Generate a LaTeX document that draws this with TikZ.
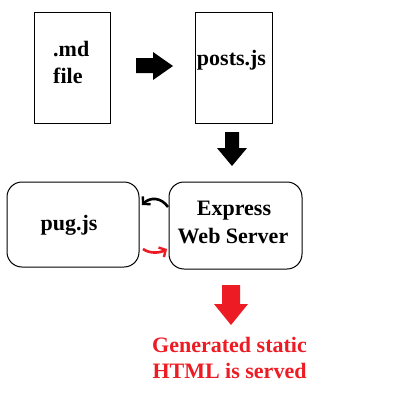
\documentclass[tikz,border=0pt]{standalone}
\usepackage{fontspec}
\setmainfont{Liberation Serif}
\usetikzlibrary{arrows.meta}
\definecolor{pred}{RGB}{237,28,36}
\begin{document}
\begin{tikzpicture}[x=1pt,y=-1pt,
  box/.style={draw=black,line width=1pt},
  rbox/.style={draw=black,line width=1pt,rounded corners=15pt},
  lbl/.style={inner sep=0pt,font=\fontsize{22}{27}\selectfont\bfseries},
  blk/.style={fill=black},
  curv/.style={line width=2.6pt,-{Straight Barb[length=5pt,width=11pt,line width=2.4pt]}}]
\useasboundingbox[fill=white] (0,0) rectangle (400,400);
% boxes
\draw[box] (34,12) rectangle (110,123);
\draw[box] (195,12) rectangle (272,123);
\draw[rbox] (7,182) rectangle (139,267);
\draw[rbox] (169,182) rectangle (302,269);
% labels
\node[lbl,anchor=base west] (md) at (53,56) {.md};
\node[lbl,anchor=base west] (file) at (53,83) {file};
\node[lbl,anchor=base] (posts) at (231.5,65) {posts.js};
\node[lbl,anchor=base] (pug) at (69,230) {pug.js};
\node[lbl,anchor=base] (ex1) at (234,215) {Express};
\node[lbl,anchor=base] (ex2) at (233,243) {Web Server};
\node[lbl,anchor=base,text=pred] (gen1) at (229.5,352) {Generated static};
\node[lbl,anchor=base,text=pred] (gen2) at (229.5,378) {HTML is served};
% block arrows
\fill[blk] (136,58) -- (153,58) -- (153,52) -- (173,66) -- (153,80) -- (153,73) -- (136,73) -- cycle;
\fill[blk] (225,132) -- (239,132) -- (239,148) -- (247,148) -- (232,166) -- (217,148) -- (225,148) -- cycle;
\fill[pred] (222,285) -- (240,285) -- (240,304) -- (248,304) -- (231,325) -- (214,304) -- (222,304) -- cycle;
% curved arrows
\coordinate (bs) at (168,207);
\coordinate (be) at (142,205);
\coordinate (rs) at (143,249);
\coordinate (re) at (167,249);
\draw[curv,black] (bs) .. controls (161,197) and (150,197) .. (be);
\draw[curv,pred] (rs) .. controls (150,254) and (160,253) .. (re);
\end{tikzpicture}
\end{document}
